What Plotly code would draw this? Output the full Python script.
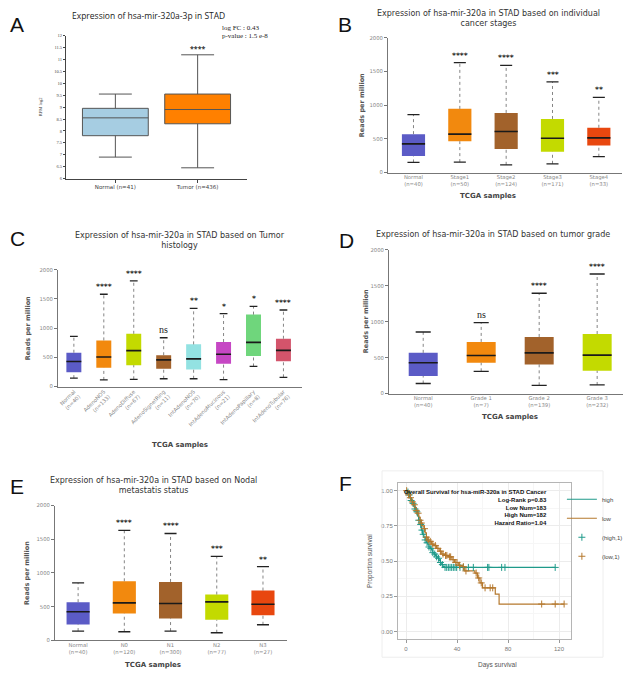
import plotly.graph_objects as go

# the page puts the figure 8px in from the top-left corner
OFF = 8
W, H = 631 - OFF, 685 - OFF

# ---------------- data ----------------
# A: expression (RPM log2)
a_cats = ["Normal (n=41)", "Tumor (n=436)"]
a_low = [6.9, 6.45]
a_q1 = [7.8, 8.3]
a_med = [8.55, 8.9]
a_q3 = [8.95, 9.55]
a_high = [9.55, 11.2]
a_colors = ["#a6cde2", "#ff8000"]

# B: cancer stages
b_cats = ["Normal<br>(n=40)", "Stage1<br>(n=50)", "Stage2<br>(n=124)", "Stage3<br>(n=171)", "Stage4<br>(n=33)"]
b_low = [150, 155, 115, 130, 235]
b_q1 = [245, 465, 350, 310, 400]
b_med = [425, 570, 610, 510, 515]
b_q3 = [570, 945, 885, 795, 665]
b_high = [860, 1630, 1590, 1345, 1115]
b_stars = ["", "****", "****", "***", "**"]
b_colors = ["#5b5bc6", "#f2890e", "#a2622b", "#c3da00", "#e8470f"]

# C: tumor histology
c_cats = ["Normal<br>(n=40)", "AdenoNOS<br>(n=133)", "AdenoDiffuse<br>(n=67)", "AdenoSignetRing<br>(n=11)",
          "IntAdenoNOS<br>(n=70)", "IntAdenoMucinous<br>(n=21)", "IntAdenoPapillary<br>(n=8)", "IntAdenoTubular<br>(n=76)"]
c_low = [145, 115, 125, 135, 135, 120, 345, 160]
c_q1 = [245, 322, 367, 305, 294, 390, 525, 435]
c_med = [430, 508, 616, 458, 475, 554, 757, 621]
c_q3 = [580, 791, 904, 537, 723, 763, 1232, 819]
c_high = [860, 1580, 1810, 836, 1339, 1249, 1373, 1311]
c_stars = ["", "****", "****", "ns", "**", "*", "*", "****"]
c_colors = ["#5b5bc6", "#f2890e", "#c3da00", "#a2622b", "#93e2e2", "#c647c4", "#6fd67c", "#d3546b"]

# D: tumor grade
d_cats = ["Normal<br>(n=40)", "Grade 1<br>(n=7)", "Grade 2<br>(n=139)", "Grade 3<br>(n=232)"]
d_low = [140, 310, 115, 120]
d_q1 = [244, 429, 406, 318]
d_med = [429, 530, 567, 535]
d_q3 = [567, 719, 788, 829]
d_high = [857, 986, 1396, 1664]
d_stars = ["", "ns", "****", "****"]
d_colors = ["#5b5bc6", "#f2890e", "#a2622b", "#c3da00"]

# E: nodal metastasis
e_cats = ["Normal<br>(n=40)", "N0<br>(n=120)", "N1<br>(n=300)", "N2<br>(n=77)", "N3<br>(n=27)"]
e_low = [138, 128, 138, 113, 232]
e_q1 = [236, 399, 325, 305, 374]
e_med = [424, 557, 547, 571, 537]
e_q3 = [567, 877, 867, 680, 739]
e_high = [852, 1631, 1586, 1246, 1094]
e_stars = ["", "****", "****", "***", "**"]
e_colors = ["#5b5bc6", "#f2890e", "#a2622b", "#c3da00", "#e8470f"]

# F: Kaplan-Meier
t_high = [0, 1, 2, 3, 4, 5, 6, 7, 8, 9, 10, 11, 12, 13, 14, 15, 16, 17, 18, 19, 20,
          21, 22, 23, 24, 25, 26, 27, 28, 29, 30, 117]
s_high = [1.0, 0.99, 0.97, 0.95, 0.93, 0.91, 0.89, 0.87, 0.85, 0.82, 0.79, 0.76, 0.72, 0.69, 0.67,
          0.65, 0.63, 0.62, 0.60, 0.59, 0.58, 0.56, 0.55, 0.54, 0.53, 0.52, 0.505, 0.49, 0.475, 0.46,
          0.455, 0.455]
t_low = [0, 1, 2, 3, 4, 5, 6, 7, 8, 9, 10, 11, 12, 13, 14, 15, 16, 17, 18, 20, 22, 24, 26, 28,
         30, 33, 36, 38, 41, 44, 46, 50, 54, 56, 58, 60, 63, 70, 73, 124]
s_low = [1.0, 0.99, 0.97, 0.95, 0.93, 0.92, 0.90, 0.88, 0.86, 0.84, 0.81, 0.79, 0.77, 0.75, 0.73,
         0.70, 0.67, 0.65, 0.64, 0.62, 0.61, 0.59, 0.57, 0.55, 0.54, 0.53, 0.51, 0.49, 0.47, 0.46,
         0.43, 0.43, 0.415, 0.38, 0.345, 0.31, 0.31, 0.265, 0.195, 0.195]
cens_high = [1.5, 2.5, 4, 5.5, 7, 8.5, 10, 11.5, 12.5, 13.5, 15, 16.5, 18, 19.5, 21, 22.5, 24, 25.5,
             27, 28.5, 30.6, 31.9, 33.2, 34.5, 35.8, 37.1, 38.4, 39.7, 42.3, 44.9, 48.9, 52.8, 64, 65,
             75, 77.6, 117]
cens_low = [0.5, 2, 3.5, 5, 6.5, 8, 9.5, 11, 12, 14.5, 16, 17.5, 19, 21, 23, 25, 27, 29, 31, 32, 34,
            35, 37, 39, 40, 42, 45, 47, 55, 57, 59, 62, 66, 68, 106.4, 117, 124]


# page pixels -> paper coords
def px(x):
    return (x - OFF) / W


def py(y):
    return 1 - (y - OFF) / H


def dx(l, r):
    return [px(l), px(r)]


def dy(t, b):
    return [py(b), py(t)]


def step_at(ts, ss, t):
    v = ss[0]
    for tt, s in zip(ts, ss):
        if tt <= t:
            v = s
    return v


def note(x, y, text, font, **kw):
    d = dict(x=px(x), y=py(y), xref="paper", yref="paper", text=text, showarrow=False,
             xanchor="center", yanchor="middle", font=font)
    d.update(kw)
    return d


fig = go.Figure()
annots = []

# ---------------- panel A ----------------
for i in range(len(a_cats)):
    fig.add_trace(go.Box(x=[i], q1=[a_q1[i]], median=[a_med[i]], q3=[a_q3[i]],
                         lowerfence=[a_low[i]], upperfence=[a_high[i]], width=0.8,
                         whiskerwidth=0.5, fillcolor=a_colors[i],
                         line=dict(color="#555555", width=1), boxpoints=False,
                         showlegend=False, hoverinfo="skip", xaxis="x", yaxis="y"))
annots.append(dict(x=1, y=a_high[1], xref="x", yref="y", text="<b>****</b>", showarrow=False,
                   xanchor="center", yanchor="bottom", yshift=0, font=dict(size=7, color="#333")))
annots.append(note(148, 13, "Expression of hsa-mir-320a-3p in STAD",
                   dict(family="Open Sans", size=8.5, color="#222")))
annots.append(note(220, 25, "log FC : 0.43", dict(family="Liberation Serif", size=7, color="#222"),
                   xanchor="left"))
annots.append(note(220, 33.5, "p-value : 1.5 e-8", dict(family="Liberation Serif", size=7, color="#222"),
                   xanchor="left"))
annots.append(note(40, 105, "RPM log2", dict(family="Liberation Serif", size=4.5, color="#333"),
                   textangle=-90))


# ---------------- panels B-E ----------------
def box_panel(n, cats, low, q1, med, q3, high, colors, stars):
    xa, ya = "x%d" % n, "y%d" % n
    pos = list(range(len(cats)))
    for i in pos:
        fig.add_trace(go.Box(x=[i], q1=[q1[i]], median=[med[i]], q3=[q3[i]],
                             lowerfence=[low[i]], upperfence=[high[i]], width=0.5,
                             fillcolor=colors[i], line=dict(color="rgba(0,0,0,0)", width=0),
                             boxpoints=False, showlegend=False, hoverinfo="skip",
                             xaxis=xa, yaxis=ya))
    wx, wy, cx, cy, mx, my = [], [], [], [], [], []
    for i in pos:
        wx += [i, i, None, i, i, None]
        wy += [q3[i], high[i], None, low[i], q1[i], None]
        cx += [i - 0.13, i + 0.13, None, i - 0.13, i + 0.13, None]
        cy += [high[i], high[i], None, low[i], low[i], None]
        mx += [i - 0.25, i + 0.25, None]
        my += [med[i], med[i], None]
    fig.add_trace(go.Scatter(x=wx, y=wy, mode="lines", line=dict(color="#666", width=0.8, dash="dot"),
                             showlegend=False, hoverinfo="skip", xaxis=xa, yaxis=ya))
    fig.add_trace(go.Scatter(x=cx, y=cy, mode="lines", line=dict(color="#222", width=1.3),
                             showlegend=False, hoverinfo="skip", xaxis=xa, yaxis=ya))
    fig.add_trace(go.Scatter(x=mx, y=my, mode="lines", line=dict(color="#1a1a1a", width=1.6),
                             showlegend=False, hoverinfo="skip", xaxis=xa, yaxis=ya))
    for i in pos:
        if not stars[i]:
            continue
        if stars[i] == "ns":
            f = dict(family="Liberation Serif", size=10, color="#222")
            t = "ns"
        else:
            f = dict(family="DejaVu Sans", size=7.5, color="#222")
            t = "<b>%s</b>" % stars[i]
        annots.append(dict(x=i, y=high[i], xref=xa, yref=ya, text=t, showarrow=False,
                           xanchor="center", yanchor="bottom", yshift=1, font=f))


box_panel(2, b_cats, b_low, b_q1, b_med, b_q3, b_high, b_colors, b_stars)
box_panel(3, c_cats, c_low, c_q1, c_med, c_q3, c_high, c_colors, c_stars)
box_panel(4, d_cats, d_low, d_q1, d_med, d_q3, d_high, d_colors, d_stars)
box_panel(5, e_cats, e_low, e_q1, e_med, e_q3, e_high, e_colors, e_stars)

title_font = dict(family="DejaVu Sans", size=8, color="#333")
ylab_font = dict(family="DejaVu Sans", size=6.5, color="#555")
xlab_font = dict(family="DejaVu Sans", size=7, color="#444")
for (cx_, cy_, txt) in [
        (488, 15.5, "Expression of hsa-mir-320a in STAD based on individual<br>cancer stages"),
        (180, 240, "Expression of hsa-mir-320a in STAD based on Tumor<br>histology"),
        (493, 233, "Expression of hsa-mir-320a in STAD based on tumor grade"),
        (153, 487, "Expression of hsa-mir-320a in STAD based on Nodal<br>metastatis status")]:
    annots.append(note(cx_, cy_, txt, title_font))
for (cx_, cy_) in [(362, 103), (28, 328), (366, 321), (27, 575)]:
    annots.append(note(cx_, cy_, "<b>Reads per million</b>", ylab_font, textangle=-90))
for (cx_, cy_) in [(488, 195), (180, 446), (510, 418), (153, 668)]:
    annots.append(note(cx_, cy_, "<b>TCGA samples</b>", xlab_font))

# ---------------- panel F ----------------
teal = "#1f9a8a"
brown = "#b5782d"
fig.add_trace(go.Scatter(x=t_high, y=s_high, mode="lines", line=dict(color=teal, width=1.2, shape="hv"),
                         name="high", xaxis="x6", yaxis="y6", hoverinfo="skip"))
fig.add_trace(go.Scatter(x=t_low, y=s_low, mode="lines", line=dict(color=brown, width=1.2, shape="hv"),
                         name="low", xaxis="x6", yaxis="y6", hoverinfo="skip"))
fig.add_trace(go.Scatter(x=cens_high, y=[step_at(t_high, s_high, t) for t in cens_high], mode="markers",
                         marker=dict(symbol="cross-thin", size=5, line=dict(color=teal, width=1)),
                         name="(high,1)", xaxis="x6", yaxis="y6", hoverinfo="skip"))
fig.add_trace(go.Scatter(x=cens_low, y=[step_at(t_low, s_low, t) for t in cens_low], mode="markers",
                         marker=dict(symbol="cross-thin", size=5, line=dict(color=brown, width=1)),
                         name="(low,1)", xaxis="x6", yaxis="y6", hoverinfo="skip"))
annots.append(note(549, 488, "<b>Overall Survival for hsa-miR-320a in STAD Cancer<br>Log-Rank p=0.83<br>"
                             "Low Num=183<br>High Num=182<br>Hazard Ratio=1.04</b>",
                   dict(family="Liberation Sans Narrow, Liberation Sans", size=6, color="#111"),
                   xanchor="right", yanchor="top", align="right"))
annots.append(note(497, 668, "Days survival", dict(family="Liberation Sans", size=6.5, color="#555")))
annots.append(note(370, 563, "Proportion survival", dict(family="Liberation Sans", size=6.5, color="#555"),
                   textangle=-90))

# panel letters (kept inside the figure box)
for (lx, ly, letter) in [(17, 22, "A"), (345, 22, "B"), (17, 238, "C"), (347, 240, "D"),
                         (17, 488, "E"), (345, 485, "F")]:
    annots.append(note(lx, ly, letter, dict(family="Liberation Sans", size=21, color="#111")))

# ---------------- axes ----------------
tickf = dict(family="DejaVu Sans", size=5.3, color="#888")
box_x = dict(showline=True, linecolor="#777", linewidth=1, ticks="", showgrid=False, zeroline=False,
             tickfont=tickf, ticklabelstandoff=-1)
box_y = dict(showline=True, linecolor="#777", linewidth=1, ticks="outside", ticklen=3, tickcolor="#777",
             showgrid=False, zeroline=False, range=[0, 2000], dtick=500, tickfont=tickf)

fig.update_layout(
    width=W, height=H, margin=dict(l=0, r=0, t=0, b=0),
    paper_bgcolor="white", plot_bgcolor="white",
    xaxis=dict(domain=dx(66, 247), range=[-0.6, 1.6], tickvals=[0, 1], ticktext=a_cats, showline=True,
               linecolor="#444", ticks="outside", ticklen=3, tickcolor="#444", showgrid=False, zeroline=False,
               tickfont=dict(family="DejaVu Sans", size=5.5, color="#444"), anchor="y"),
    yaxis=dict(domain=dy(33, 177), range=[6, 12], dtick=0.5, showline=True, linecolor="#444",
               ticks="outside", ticklen=2, tickcolor="#444", showgrid=False, zeroline=False,
               tickfont=dict(family="Liberation Serif", size=4.5, color="#444"), anchor="x"),
    xaxis2=dict(domain=dx(388, 622), range=[-0.55, 4.5], tickvals=list(range(len(b_cats))),
                ticktext=b_cats, anchor="y2", **box_x),
    yaxis2=dict(domain=dy(35, 171), anchor="x2", **box_y),
    xaxis3=dict(domain=dx(58, 302), range=[-0.53, 7.62], tickvals=list(range(len(c_cats))),
                ticktext=c_cats, tickangle=-45, anchor="y3", **box_x),
    yaxis3=dict(domain=dy(269, 387), anchor="x3", **box_y),
    xaxis4=dict(domain=dx(389, 625), range=[-0.59, 3.48], tickvals=list(range(len(d_cats))),
                ticktext=d_cats, anchor="y4", **box_x),
    yaxis4=dict(domain=dy(249, 394), anchor="x4", **box_y),
    xaxis5=dict(domain=dx(55, 287), range=[-0.5, 4.52], tickvals=list(range(len(e_cats))),
                ticktext=e_cats, anchor="y5", **box_x),
    yaxis5=dict(domain=dy(507, 643), anchor="x5", **box_y),
    xaxis6=dict(domain=dx(398, 571), range=[-6.3, 129.4], tickvals=[0, 40, 80, 120], showline=True,
                mirror=True, linecolor="#b5b5b5", ticks="outside", ticklen=3, tickcolor="#999",
                showgrid=True, gridcolor="#ececec", zeroline=False,
                minor=dict(dtick=20, tick0=0, showgrid=True, gridcolor="#f6f6f6"),
                tickfont=dict(family="Liberation Sans", size=6, color="#777"), anchor="y6"),
    yaxis6=dict(domain=dy(484, 642), range=[-0.056, 1.056], tickvals=[0, 0.25, 0.5, 0.75, 1.0],
                tickformat=".2f", showline=True, mirror=True, linecolor="#b5b5b5", ticks="outside",
                ticklen=3, tickcolor="#999", showgrid=True, gridcolor="#ececec", zeroline=False,
                minor=dict(dtick=0.125, tick0=0, showgrid=True, gridcolor="#f6f6f6"),
                tickfont=dict(family="Liberation Sans", size=6, color="#777"), anchor="x6"),
    legend=dict(x=0.995, y=py(486), xanchor="right", yanchor="top", bgcolor="rgba(0,0,0,0)",
                font=dict(family="Liberation Sans", size=6, color="#444"), itemwidth=30, tracegroupgap=0),
    annotations=annots,
    shapes=[dict(type="rect", xref="paper", yref="paper", x0=px(382), x1=px(603), y0=py(660),
                 y1=py(472), line=dict(color="#eeeeee", width=1))],
)

fig.write_html("out.html")
